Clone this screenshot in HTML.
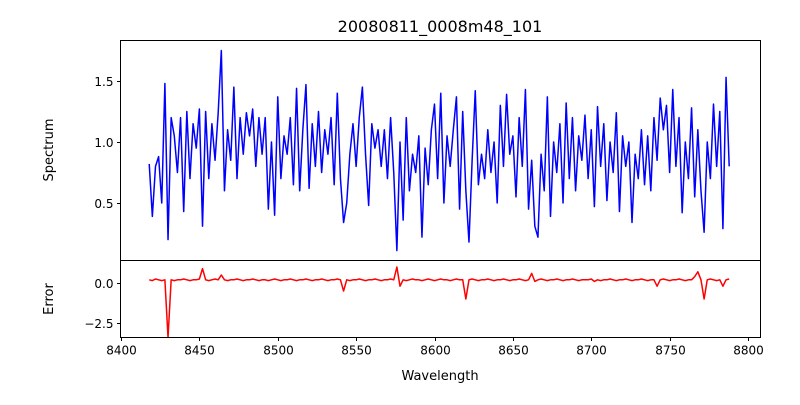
<!DOCTYPE html>
<html><head><meta charset="utf-8"><style>
body{margin:0;background:#fff;font-family:"Liberation Sans","DejaVu Sans",sans-serif}
svg text{font-family:"DejaVu Sans","Liberation Sans",sans-serif;fill:#000}
</style></head><body>
<svg id="c" width="800" height="400" xmlns="http://www.w3.org/2000/svg"></svg>
<script>
const wavelengthStart = 8418;
const wavelengthStep = 2;
const spectrumValues = [
0.82,0.39,0.8,0.88,0.5,1.48,0.2,1.2,1.05,0.75,
1.2,0.43,1.25,0.7,1.15,0.95,1.27,0.31,1.25,0.7,
1.15,0.85,1.24,1.75,0.6,1.1,0.85,1.45,0.7,1.2,
0.9,1.24,1.05,1.27,0.8,1.2,0.9,1.2,0.45,1.0,
0.4,1.37,0.7,1.05,0.9,1.2,0.65,1.44,0.6,1.1,
1.47,0.62,1.15,0.8,1.25,0.75,1.1,0.9,1.2,0.65,
1.4,0.7,0.34,0.5,0.9,1.15,0.8,1.2,1.45,0.9,
0.48,1.15,0.95,1.1,0.8,1.1,0.7,1.2,0.75,0.11,
1.0,0.36,1.2,0.6,0.9,0.75,1.05,0.22,0.95,0.65,
1.1,1.31,0.7,1.4,0.5,1.05,0.8,1.1,1.37,0.45,
1.25,0.6,0.18,0.85,1.42,0.65,0.9,0.7,1.1,0.75,
1.0,0.5,1.3,0.8,1.39,0.9,1.05,0.55,1.2,0.8,
1.43,0.45,0.85,0.31,0.22,0.9,0.6,1.37,0.39,1.0,
0.75,1.15,0.5,1.32,0.7,1.2,0.6,1.05,0.85,1.22,
0.7,1.1,0.47,1.29,0.8,1.15,0.52,1.0,0.75,1.24,
0.43,1.05,0.8,1.0,0.34,0.9,0.7,1.1,0.65,1.05,
0.6,1.2,0.85,1.36,1.1,1.3,0.75,1.43,0.8,1.2,
0.42,1.0,0.7,1.28,0.55,1.1,0.6,0.26,1.0,0.7,
1.31,0.8,1.25,0.29,1.53,0.8];
const errorValues = [
0.2,0.15,0.25,0.2,0.15,0.2,-3.4,0.2,0.15,0.2,
0.2,0.25,0.2,0.15,0.2,0.2,0.25,0.9,0.2,0.15,
0.2,0.25,0.2,0.5,0.2,0.15,0.2,0.2,0.25,0.2,
0.15,0.2,0.2,0.25,0.2,0.15,0.2,0.2,0.15,0.2,
0.25,0.2,0.15,0.2,0.2,0.25,0.2,0.15,0.2,0.2,
0.25,0.2,0.15,0.2,0.2,0.25,0.2,0.15,0.2,0.2,
0.25,0.2,-0.5,0.2,0.15,0.2,0.2,0.25,0.2,0.15,
0.2,0.2,0.25,0.2,0.15,0.2,0.2,0.25,0.2,1.0,
-0.2,0.2,0.15,0.2,0.25,0.2,0.2,0.15,0.2,0.25,
0.2,0.15,0.2,0.25,0.2,0.2,0.15,0.2,0.25,0.2,
0.2,-1.0,0.2,0.25,0.2,0.15,0.2,0.2,0.25,0.2,
0.15,0.2,0.2,0.25,0.2,0.15,0.2,0.2,0.25,0.2,
0.15,0.2,0.6,0.1,0.2,0.25,0.2,0.15,0.2,0.2,
0.25,0.2,0.15,0.2,0.2,0.25,0.2,0.15,0.2,0.2,
0.2,0.25,0.1,0.2,0.15,0.2,0.2,0.25,0.2,0.15,
0.2,0.2,0.25,0.2,0.15,0.2,0.2,0.25,0.2,0.15,
0.2,0.2,-0.2,0.2,0.25,0.2,0.15,0.2,0.2,0.25,
0.2,0.15,0.2,0.2,0.4,0.7,0.2,-1.0,0.2,0.25,
0.2,0.15,0.2,-0.2,0.2,0.25];
const xTicks = [8400,8450,8500,8550,8600,8650,8700,8750,8800];
const specTicks = [0.5,1.0,1.5];
const specTickLabels = ["0.5","1.0","1.5"];
const errTicks = [0.0,-2.5];
const errTickLabels = ["0.0","\u22122.5"];

const NS="http://www.w3.org/2000/svg";
const svg=document.getElementById('c');
function mk(t,a,p){const e=document.createElementNS(NS,t);for(const k in a)e.setAttribute(k,a[k]);(p||svg).appendChild(e);return e;}
const xs=w=>121+(w-8400)*1.5675;
const ys=v=>142-(v-1)*122;
const ye=v=>283-v*16;
const L=120.5,R=760.5,T1=40.5,B1=260.5,B2=337.5;

let t=mk('text',{x:440,y:32,'font-size':16,'text-anchor':'middle'});t.textContent='20080811_0008m48_101';



function pathOf(vals,ysf){return vals.map((v,i)=>(i?'L':'M')+xs(wavelengthStart+i*wavelengthStep).toFixed(2)+','+ysf(v).toFixed(2)).join('');}
let p=mk('path',{d:pathOf(spectrumValues,ys),fill:'none',stroke:'#0000ff','stroke-width':1.5,'stroke-linejoin':'round'});


let q=mk('path',{d:pathOf(errorValues,ye),fill:'none',stroke:'#ff0000','stroke-width':1.5,'stroke-linejoin':'round'});



let f1=mk('rect',{x:L,y:T1,width:R-L,height:B1-T1,fill:'none',stroke:'#000','stroke-width':1});


let f2=mk('rect',{x:L,y:B1,width:R-L,height:B2-B1,fill:'none',stroke:'#000','stroke-width':1});



xTicks.forEach(w=>{const x=Math.round(xs(w))+0.5;mk('line',{x1:x,x2:x,y1:B2,y2:B2+3.5,stroke:'#000'});
 const tt=mk('text',{x:x,y:B2+17,'font-size':12,'text-anchor':'middle'});tt.textContent=w;
 
 });
specTicks.forEach((v,i)=>{const y=Math.round(ys(v))+0.5;mk('line',{x1:L-3.5,x2:L,y1:y,y2:y,stroke:'#000'});
 const tt=mk('text',{x:L-7,y:y+4.5,'font-size':12,'text-anchor':'end'});tt.textContent=specTickLabels[i];
 
 });
errTicks.forEach((v,i)=>{const y=Math.round(ye(v))+0.5;mk('line',{x1:L-3.5,x2:L,y1:y,y2:y,stroke:'#000'});
 const tt=mk('text',{x:L-7,y:y+4.5,'font-size':12,'text-anchor':'end'});tt.textContent=errTickLabels[i];
 
 });

t=mk('text',{x:440,y:380,'font-size':13,'text-anchor':'middle'});t.textContent='Wavelength';


t=mk('text',{x:53,y:150,'font-size':13,'text-anchor':'middle',transform:'rotate(-90 53 150)'});t.textContent='Spectrum';


t=mk('text',{x:53,y:299,'font-size':13,'text-anchor':'middle',transform:'rotate(-90 53 299)'});t.textContent='Error';


</script>
</body></html>
